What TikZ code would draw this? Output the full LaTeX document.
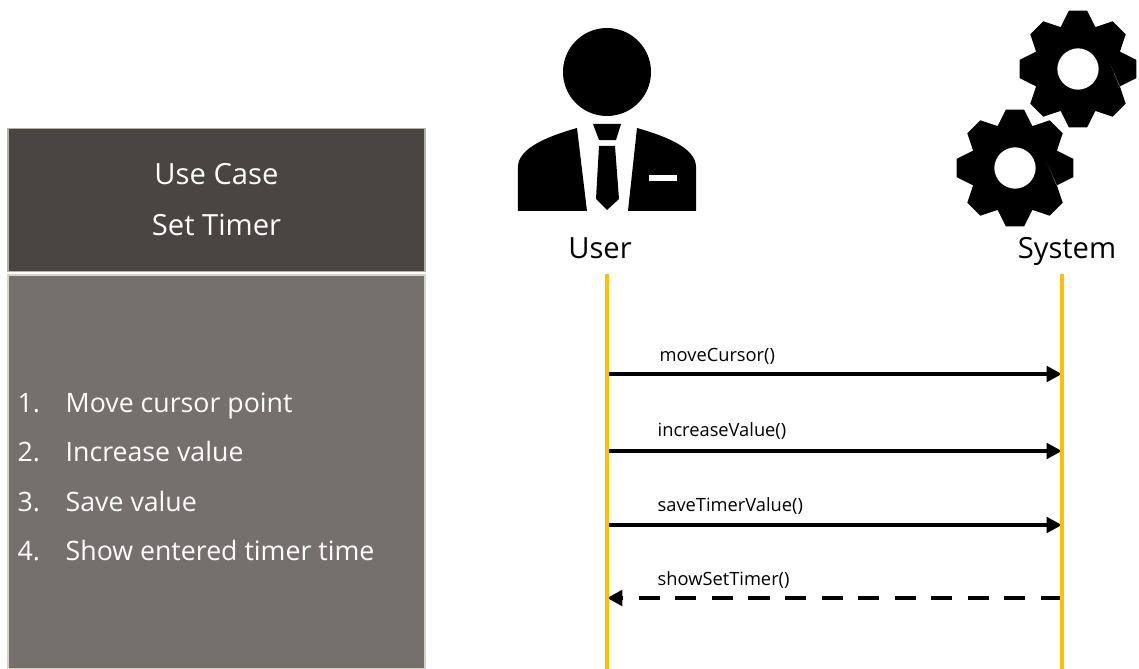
\documentclass[tikz,border=0pt]{standalone}
\usepackage{fontspec}
\setmainfont{Open Sans}
\usetikzlibrary{arrows.meta}

\definecolor{headgray}{HTML}{4A4543}
\definecolor{bodygray}{HTML}{75706D}
\definecolor{edgecream}{HTML}{D8D2C4}
\definecolor{lifeyellow}{HTML}{FFC000}

\tikzset{
	headbox/.style={draw=edgecream!60!gray, line width=0.3pt, fill=headgray, text=white, minimum width=4.17cm, minimum height=1.43cm, inner sep=0pt, align=center, font=\fontsize{8.3}{14.5}\selectfont},
	bodybox/.style={draw=edgecream, line width=0.3pt, fill=bodygray, minimum width=4.17cm, minimum height=3.94cm, inner sep=0pt},
	stepnum/.style={anchor=base west, inner sep=0pt, text=white, font=\fontsize{7.6}{9}\selectfont},
	actorname/.style={anchor=base, inner sep=0pt, font=\fontsize{8.3}{10}\selectfont},
	msgname/.style={anchor=base west, inner sep=0pt, font=\fontsize{5.2}{7}\selectfont},
	lifeline/.style={lifeyellow, line width=1.4pt},
	msgline/.style={-{Triangle[length=4.4pt, width=4.4pt]}, line width=1.15pt},
	gearicon/.pic={
		\fill[even odd rule] (67.5:0.45)
			\foreach \a in {0, 45, ..., 315} {
				-- (\a-23:0.45) -- (\a-9:0.59) -- (\a+9:0.59) -- (\a+23:0.45)
			} -- cycle (0, 0) circle (0.207);
	}
}

\begin{document}
\begin{tikzpicture}
	\useasboundingbox (0, 0) rectangle (11.39, 6.69);

	% left panel
	\node[headbox] (usecase) at (2.165, 4.69) {Use Case\\Set Timer};
	\node[bodybox] (steps) at (2.165, 1.97) {};

	\node[stepnum] (num1) at (0.17, 2.56) {1.};
	\node[stepnum] (num2) at (0.17, 2.07) {2.};
	\node[stepnum] (num3) at (0.17, 1.57) {3.};
	\node[stepnum] (num4) at (0.17, 1.08) {4.};
	\node[stepnum] (step1) at (0.65, 2.56) {Move cursor point};
	\node[stepnum] (step2) at (0.65, 2.07) {Increase value};
	\node[stepnum] (step3) at (0.65, 1.57) {Save value};
	\node[stepnum] (step4) at (0.65, 1.08) {Show entered timer time};

	% user icon
	\fill (6.07, 5.97) circle (0.44);
	\fill (5.77, 5.41) .. controls (5.45, 5.32) and (5.18, 5.2) .. (5.18, 5.02) -- (5.18, 4.58) -- (5.87, 4.58) -- cycle;
	\fill (6.37, 5.41) .. controls (6.69, 5.32) and (6.96, 5.2) .. (6.96, 5.02) -- (6.96, 4.58) -- (6.28, 4.58) -- cycle;
	\fill[white] (6.49, 4.94) rectangle (6.77, 4.88);
	\fill (5.93, 5.45) -- (6.21, 5.45) -- (6.16, 5.29) -- (5.99, 5.29) -- cycle;
	\fill (5.99, 5.23) -- (6.15, 5.23) -- (6.19, 4.7) -- (6.07, 4.59) -- (5.96, 4.7) -- cycle;

	% system icon
	\pic at (10.78, 6.0) {gearicon};
	\pic at (10.15, 5.01) {gearicon};

	\node[actorname] (user) at (6.0, 4.1) {User};
	\node[actorname] (system) at (10.67, 4.1) {System};

	\coordinate (userTop) at (6.07, 3.95);
	\coordinate (userEnd) at (6.07, 0);
	\coordinate (sysTop) at (10.62, 3.95);
	\coordinate (sysEnd) at (10.62, 0);

	\coordinate (user1) at (6.07, 2.95);
	\coordinate (sys1) at (10.62, 2.95);
	\coordinate (user2) at (6.07, 2.18);
	\coordinate (sys2) at (10.62, 2.18);
	\coordinate (user3) at (6.07, 1.44);
	\coordinate (sys3) at (10.62, 1.44);
	\coordinate (user4) at (6.07, 0.71);
	\coordinate (sys4) at (10.62, 0.71);

	% messages
	\draw[msgline] (user1) -- (sys1);
	\draw[msgline] (user2) -- (sys2);
	\draw[msgline] (user3) -- (sys3);
	\draw[msgline, dash pattern=on 6pt off 4.4pt] (sys4) -- (user4);

	\draw[lifeline] (userTop) -- (userEnd);
	\draw[lifeline] (sysTop) -- (sysEnd);

	\node[msgname] (move) at (6.59, 3.07) {moveCursor()};
	\node[msgname] (increase) at (6.57, 2.32) {increaseValue()};
	\node[msgname] (save) at (6.57, 1.57) {saveTimerValue()};
	\node[msgname] (show) at (6.57, 0.84) {showSetTimer()};
\end{tikzpicture}
\end{document}
